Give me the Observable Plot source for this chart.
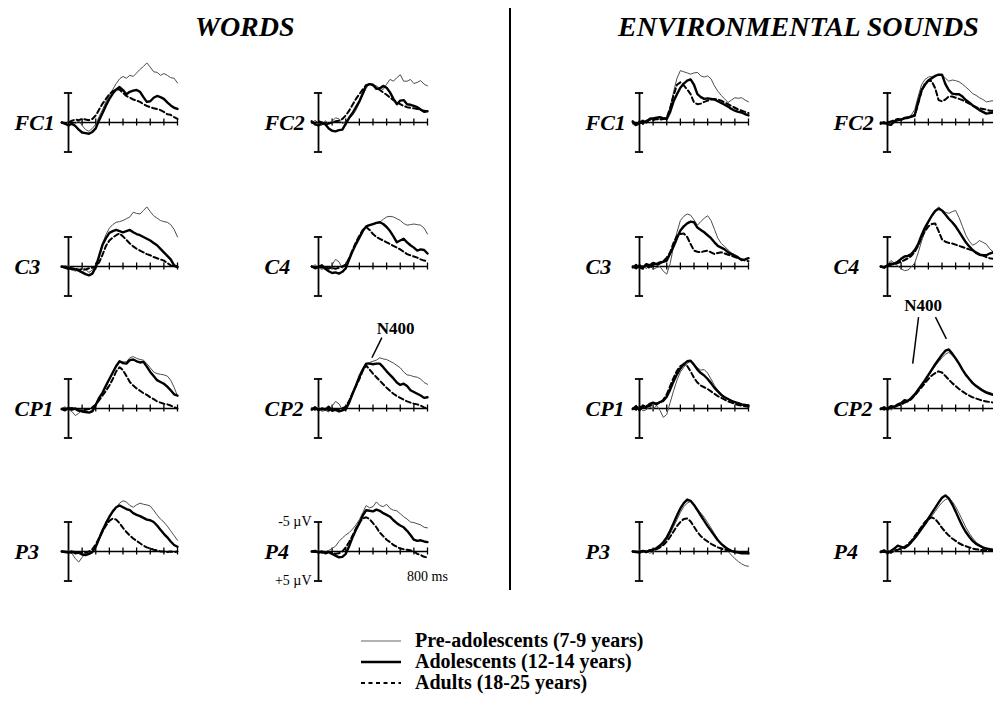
<!DOCTYPE html>
<html><head><meta charset="utf-8">
<script src="https://cdn.jsdelivr.net/npm/d3@7"></script>
<script src="https://cdn.jsdelivr.net/npm/@observablehq/plot@0.6"></script>
<style>
body{margin:0;background:#fff;overflow:hidden;}
#root{position:relative;width:993px;height:704px;overflow:hidden;font-family:"Liberation Serif","Times New Roman",serif;color:#000;}
.panel{position:absolute;width:230px;height:170px;}
.panel svg{max-width:none !important;}
.title{position:absolute;font-weight:bold;font-style:italic;font-size:28px;white-space:nowrap;line-height:1;}
.divider{position:absolute;left:509px;top:8px;width:2px;height:582px;background:#000;}
.legend{position:absolute;left:360px;top:630px;}
.legend div{display:flex;align-items:center;height:21px;font-weight:bold;font-size:20px;white-space:nowrap;}
.legend svg{margin-right:13px;}
</style></head><body><div id="root"></div>
<script>
// time axis (ms)
const times = [-50,-25,0,25,50,75,100,125,150,175,200,225,250,275,300,325,350,375,400,425,450,475,500,525,550,575,600,625,650,675,700,725,750,775,800];
const tickTimes = [100,200,300,400,500,600,700,800];
const groups = ["Pre-adolescents (7-9 years)", "Adolescents (12-14 years)", "Adults (18-25 years)"];
const conditions = ["WORDS", "ENVIRONMENTAL SOUNDS"];
const electrodeRows = [["FC1","FC2"],["C3","C4"],["CP1","CP2"],["P3","P4"]];

// ---- WORDS (µV, negative plotted up) ----
const wFC1pre  = [0,0.3,-0.2,0.4,0.2,-0.3,0.5,1.2,1.5,1.0,0.3,-1.0,-2.2,-3.5,-4.6,-5.6,-6.6,-7.4,-7.8,-7.5,-8.0,-7.8,-8.4,-9.0,-9.5,-10.1,-9.4,-8.6,-8.5,-8.0,-8.3,-8.0,-7.6,-7.5,-6.7];
const wFC1adol = [0,0.2,0.5,0.2,0.6,1.2,1.7,1.8,1.9,1.6,1.0,-0.4,-1.6,-2.9,-4.0,-4.9,-5.6,-6.0,-5.5,-4.8,-5.2,-5.4,-5.5,-5.2,-4.3,-3.5,-3.6,-4.2,-4.5,-4.3,-4.0,-3.4,-2.9,-2.5,-2.3];
const wFC1adul = [0,0.2,0,-0.3,-0.5,-0.4,-0.6,-0.5,-0.4,-0.6,-1.2,-2.2,-3.2,-4.0,-4.8,-5.3,-5.6,-5.6,-5.0,-4.5,-4.2,-3.9,-3.7,-3.5,-3.1,-2.8,-2.6,-2.4,-2.3,-2.1,-1.8,-1.4,-1.3,-0.9,-0.6];

const wFC2pre  = [0.2,-0.4,0.3,0.5,-0.3,0.2,-0.2,-0.8,-0.6,0.2,-0.2,-0.6,-1.2,-2.1,-3.3,-4.6,-5.8,-6.6,-6.4,-6.2,-5.8,-5.6,-6.5,-7.3,-7.0,-7.6,-8.1,-7.0,-7.0,-7.3,-6.6,-6.8,-7.1,-6.5,-6.2];
const wFC2adol = [-0.2,0.3,0.5,0.1,0.3,1.0,1.4,1.5,1.3,1.2,0.2,-0.8,-1.6,-2.6,-3.6,-4.9,-6.3,-6.5,-6.4,-5.7,-5.8,-6.2,-5.9,-5.1,-4.0,-3.1,-3.7,-3.8,-3.1,-3.0,-2.8,-2.6,-2.2,-1.8,-1.9];
const wFC2adul = [0,0.1,-0.2,0,0.3,0.2,0,-0.2,-0.3,-0.6,-1.2,-2.0,-3.0,-4.0,-4.8,-5.6,-6.3,-6.5,-6.3,-5.9,-5.5,-5.1,-4.7,-4.2,-3.8,-3.4,-3.1,-2.8,-2.6,-2.5,-2.4,-2.3,-2.1,-2.0,-1.9];

const wC3pre  = [0,0.3,-0.2,0.5,0.8,0.4,0.9,0.5,1.0,0.6,-0.3,-1.8,-3.9,-5.4,-6.5,-7.1,-7.5,-7.6,-7.8,-8.1,-8.4,-9.2,-9.0,-8.9,-9.5,-10.1,-9.3,-8.6,-8.2,-7.8,-7.6,-7.5,-7.1,-6.3,-5.0];
const wC3adol = [0,0.2,0.4,0.3,0.5,0.7,1.0,1.3,1.5,1.2,0.1,-1.8,-3.7,-4.8,-5.7,-6.0,-6.2,-6.0,-5.8,-6.0,-6.2,-5.8,-5.5,-5.3,-5.0,-4.7,-4.4,-4.0,-3.6,-3.0,-2.4,-1.8,-1.2,-0.2,0.1];
const wC3adul = [0.1,0,0.2,0.5,0.3,0.6,0.4,0.5,0.3,0.2,0,-0.7,-2.0,-3.5,-4.4,-4.9,-5.3,-5.6,-5.1,-4.5,-3.9,-3.4,-3.0,-2.7,-2.4,-2.1,-1.9,-1.6,-1.4,-1.2,-1.0,-0.6,-0.2,0,0];

const wC4pre  = [0.1,-0.3,0.2,0.5,0.2,0.6,-0.3,-1.2,-0.8,0.3,-0.5,-1.5,-2.7,-4.0,-5.1,-6.0,-6.9,-7.1,-7.2,-7.3,-7.5,-8.0,-8.4,-8.5,-8.4,-8.1,-7.8,-7.3,-7.0,-7.1,-7.2,-7.1,-7.0,-6.5,-5.5];
const wC4adol = [0,0.3,0.1,-0.2,0.4,0.8,1.1,1.0,1.2,0.9,0.3,-1.2,-2.6,-3.8,-4.9,-6.0,-6.8,-7.0,-7.2,-7.4,-7.5,-7.2,-6.7,-6.0,-5.1,-4.1,-4.4,-4.7,-4.1,-3.6,-3.2,-2.7,-2.9,-2.8,-2.2];
const wC4adul = [0,0.2,-0.1,0.2,0,0.3,0.2,0.4,0.2,0,-0.3,-1.4,-2.8,-4.1,-5.2,-6.2,-6.7,-6.2,-5.5,-5.0,-4.7,-4.4,-4.1,-3.8,-3.5,-3.2,-2.9,-2.5,-2.1,-1.9,-1.7,-1.5,-1.2,-1.0,-0.9];

const wCP1pre  = [0,-0.3,0.2,0.5,1.2,0.8,0.3,0.4,0.7,0.2,-0.8,-1.9,-2.7,-3.6,-5.0,-6.1,-7.2,-8.0,-7.9,-7.9,-8.6,-8.8,-8.5,-8.3,-8.2,-7.6,-6.9,-6.2,-5.9,-5.8,-5.7,-5.5,-4.8,-3.6,-2.1];
const wCP1adol = [0.1,0.3,-0.1,0.2,0,0.3,0.5,0.6,0.7,0.5,-0.6,-1.8,-2.7,-3.9,-5.0,-6.1,-7.2,-8.0,-7.7,-7.6,-8.2,-8.3,-8.0,-7.8,-7.9,-7.1,-6.2,-5.5,-4.8,-4.5,-4.2,-3.7,-3.1,-2.4,-2.2];
const wCP1adul = [0.1,0,0.2,-0.1,0.2,0.4,0.3,0.2,0.1,-0.2,-0.7,-1.4,-2.2,-3.0,-3.9,-5.0,-6.3,-7.0,-6.5,-5.5,-4.5,-3.9,-3.4,-3.0,-2.6,-2.3,-1.9,-1.6,-1.2,-1.0,-0.8,-0.7,-0.5,-0.2,0];

const wCP2pre  = [0,0.4,-0.2,0.5,0.3,0.6,-0.4,-1.2,-0.8,0.2,-0.2,-1.2,-2.5,-3.9,-5.4,-6.6,-7.6,-7.8,-8.0,-8.2,-8.6,-8.4,-8.3,-8.0,-7.7,-7.3,-6.9,-6.2,-5.7,-5.6,-5.4,-5.3,-5.0,-4.4,-4.1];
const wCP2adol = [0.2,-0.2,0.3,0,0.2,-0.3,0.4,0.2,0.5,0.3,0.1,-1.0,-2.5,-3.9,-5.4,-6.6,-7.6,-7.6,-7.5,-7.6,-7.6,-7.0,-6.3,-5.7,-5.1,-4.4,-4.0,-4.2,-3.8,-3.1,-2.8,-2.5,-2.2,-1.8,-1.9];
const wCP2adul = [0,0.1,0,0.2,0,0.3,0.1,0.3,0.1,0,-0.3,-1.3,-2.6,-3.8,-5.0,-6.4,-7.3,-6.6,-5.9,-5.3,-4.7,-4.1,-3.5,-3.0,-2.5,-2.1,-1.8,-1.5,-1.2,-1.0,-0.8,-0.7,-0.5,-0.2,0];

const wP3pre  = [0,0.2,-0.2,0.3,1.2,1.8,1.0,0.3,0.5,0,-0.8,-2.0,-3.3,-4.6,-5.7,-6.6,-7.5,-8.2,-8.6,-8.4,-7.8,-7.5,-7.9,-8.2,-8.0,-7.9,-7.7,-7.0,-6.2,-5.5,-5.0,-4.3,-3.5,-2.7,-1.9];
const wP3adol = [0,0.1,0.2,0,0.3,0.2,0.5,0.6,0.4,0.1,-0.8,-2.2,-3.6,-4.8,-5.9,-6.8,-7.5,-7.8,-7.5,-7.2,-7.0,-6.5,-6.2,-6.0,-5.7,-5.4,-5.3,-5.0,-4.4,-3.7,-3.0,-2.4,-1.7,-1.1,-0.8];
const wP3adul = [0,0,0.1,0.2,0,0.2,0.1,0.2,0,-0.4,-1.2,-2.3,-3.4,-4.4,-5.2,-5.6,-5.4,-4.8,-4.0,-3.3,-2.7,-2.2,-1.8,-1.4,-1.0,-0.7,-0.5,-0.3,-0.2,0,0,0.1,0,0.1,0];

const wP4pre  = [0,0.2,-0.1,0.3,0.1,-0.2,-0.5,-0.9,-1.7,-2.3,-2.8,-3.2,-3.8,-4.5,-5.4,-6.6,-7.8,-7.4,-7.6,-8.4,-7.8,-7.6,-8.0,-7.3,-7.0,-6.9,-6.4,-5.9,-5.5,-5.0,-4.9,-4.7,-4.5,-4.1,-4.0];
const wP4adol = [0,-0.1,0.2,0,0.3,0.1,0.4,0.7,1.0,0.9,0.4,-0.9,-2.4,-3.7,-4.8,-6.1,-7.0,-6.9,-6.8,-7.1,-6.9,-6.5,-6.2,-5.9,-5.3,-4.8,-4.4,-4.1,-3.5,-2.8,-2.0,-1.8,-1.9,-1.7,-1.6];
const wP4adul = [0,0.1,0,0.2,0,0.1,0.2,0.4,0.3,0,-0.7,-1.6,-2.7,-3.9,-4.9,-5.6,-5.8,-5.5,-4.8,-4.1,-3.2,-2.6,-2.0,-1.6,-1.1,-0.8,-0.5,-0.4,-0.3,-0.2,0,0.4,0.6,0.9,1.0];

// ---- ENVIRONMENTAL SOUNDS ----
const eFC1pre  = [0.3,0.6,-0.3,0.4,-0.2,-0.8,-0.7,-0.5,-0.6,-0.8,-0.8,-2.6,-5.2,-7.5,-8.8,-8.6,-8.4,-8.2,-8.4,-8.5,-7.9,-7.7,-7.9,-7.4,-6.2,-5.3,-4.6,-4.0,-3.4,-3.8,-4.2,-4.1,-4.2,-3.8,-3.5];
const eFC1adol = [-0.2,0.4,0.1,-0.3,0,-0.6,-0.7,-0.8,-0.9,-0.7,-0.6,-1.8,-3.6,-4.8,-5.9,-6.6,-7.1,-7.3,-6.4,-4.8,-4.3,-4.0,-4.1,-4.0,-3.9,-3.6,-3.3,-3.0,-2.7,-2.3,-2.0,-1.8,-1.7,-1.4,-1.2];
const eFC1adul = [0,0.3,-0.2,0.2,-0.3,-0.5,-0.4,-0.6,-0.5,-0.6,-0.8,-2.5,-4.6,-6.4,-6.8,-6.3,-5.6,-4.8,-3.4,-3.1,-3.2,-3.5,-3.7,-3.9,-4.0,-3.9,-3.7,-3.4,-3.1,-2.8,-2.5,-2.2,-2.0,-1.8,-1.6];

const eFC2pre  = [0.2,-0.2,0.4,0,-0.3,-0.6,-0.4,-0.7,-0.9,-1.3,-2.2,-4.4,-6.4,-7.3,-7.7,-7.8,-7.9,-8.0,-8.1,-7.5,-7.0,-7.2,-7.1,-6.9,-6.5,-6.0,-5.5,-4.9,-4.6,-4.2,-3.9,-3.5,-3.6,-3.7,-3.5];
const eFC2adol = [0.2,0,0.3,0.4,-0.2,-0.4,-0.5,-0.7,-0.8,-1.0,-1.3,-3.5,-5.5,-6.4,-7.1,-7.5,-7.9,-8.1,-8.1,-6.5,-5.5,-4.9,-4.8,-4.8,-4.4,-3.8,-3.4,-2.9,-2.5,-2.1,-1.8,-1.5,-1.6,-1.7,-1.6];
const eFC2adul = [0,0.2,0,-0.2,-0.4,-0.6,-0.5,-0.8,-0.9,-1.0,-1.1,-3.2,-5.3,-6.6,-7.1,-7.0,-5.8,-3.8,-3.6,-3.9,-4.4,-4.4,-4.2,-4.0,-3.8,-3.5,-3.2,-2.9,-2.6,-2.4,-2.3,-2.2,-2.0,-2.0,-1.9];

const eC3pre  = [0.2,-0.4,0.3,-0.2,0.4,-0.3,0.5,0.2,0,0.8,1.3,-0.5,-3.4,-5.8,-7.8,-8.5,-8.9,-8.7,-7.9,-7.0,-7.6,-8.2,-8.6,-7.8,-6.3,-4.8,-3.9,-3.4,-2.8,-2.3,-2.0,-1.7,-1.1,-1.2,-1.4];
const eC3adol = [0,0.3,-0.2,0.2,-0.4,-0.2,-0.6,-0.4,-0.7,-0.8,-1.0,-2.2,-3.4,-4.8,-6.1,-6.8,-7.3,-7.6,-7.5,-6.6,-6.2,-5.8,-5.3,-4.8,-4.1,-3.5,-3.2,-2.9,-2.4,-2.1,-1.8,-1.5,-1.1,-1.2,-1.4];
const eC3adul = [0.2,-0.3,0.2,0.4,-0.2,0.3,-0.4,-0.2,-0.5,-0.9,-1.5,-2.4,-4.0,-5.2,-5.5,-5.6,-5.0,-3.8,-2.7,-2.5,-2.4,-2.6,-2.7,-2.4,-2.1,-2.3,-2.4,-2.2,-2.0,-1.8,-1.6,-1.4,-1.2,-1.0,-0.9];

const eC4pre  = [0,0.2,-0.3,-1.0,-0.6,-0.1,0.4,0.7,0.6,0.1,-0.6,-2.3,-4.3,-6.0,-7.5,-8.6,-9.5,-10.1,-9.6,-9.2,-9.0,-9.3,-9.5,-8.3,-6.8,-5.3,-4.3,-3.6,-3.9,-4.4,-4.1,-3.8,-3.0,-2.5,-2.3];
const eC4adol = [0,0.2,-0.2,-0.3,-0.5,-0.8,-1.3,-1.7,-1.8,-2.1,-2.8,-3.8,-5.3,-6.6,-7.6,-8.6,-9.4,-9.8,-9.5,-8.8,-8.1,-7.5,-6.8,-5.9,-5.0,-4.1,-3.4,-2.8,-2.3,-2.0,-1.9,-1.9,-2.2,-2.4,-2.5];
const eC4adul = [0,0.1,-0.3,-0.5,-0.4,-0.6,-0.8,-1.1,-1.4,-1.8,-2.5,-3.5,-4.9,-6.0,-6.8,-7.2,-7.3,-6.0,-4.6,-4.2,-4.0,-3.9,-3.7,-3.5,-3.3,-3.1,-2.9,-2.7,-2.4,-2.1,-1.9,-1.6,-1.4,-1.3,-1.2];

const eCP1pre  = [0,0.3,-0.2,0.4,0.2,-0.3,0.1,-0.5,0.3,1.5,1.0,-1.0,-3.0,-4.8,-6.2,-7.0,-7.6,-8.1,-7.6,-6.9,-6.5,-6.6,-6.0,-5.0,-3.9,-3.1,-2.5,-2.0,-1.6,-1.3,-1.0,-0.8,-0.6,-0.5,-0.4];
const eCP1adol = [0.1,-0.4,0.3,-0.5,-0.2,-0.8,-1.0,-0.7,-1.1,-1.3,-2.0,-3.2,-4.6,-5.8,-6.8,-7.5,-8.0,-8.1,-7.4,-6.6,-6.0,-5.6,-5.0,-4.3,-3.5,-2.9,-2.3,-1.9,-1.6,-1.3,-1.1,-0.9,-0.7,-0.6,-0.5];
const eCP1adul = [0,0.2,-0.3,-0.2,-0.5,-0.4,-0.8,-0.9,-1.0,-1.5,-2.4,-3.8,-5.2,-6.4,-7.2,-7.5,-7.2,-6.3,-5.2,-4.4,-3.9,-3.6,-3.3,-2.9,-2.5,-2.1,-1.8,-1.5,-1.2,-1.0,-0.8,-0.6,-0.5,-0.4,-0.3];

const eCP2pre  = [0,0.2,-0.3,0.3,-0.2,-0.6,-0.5,-0.9,-1.2,-1.6,-2.2,-3.0,-3.8,-4.6,-5.5,-6.4,-7.2,-7.9,-8.6,-9.2,-9.5,-9.0,-8.3,-7.5,-6.6,-5.8,-5.1,-4.5,-4.0,-3.6,-3.2,-2.9,-2.7,-2.5,-2.4];
const eCP2adol = [0.1,-0.2,0.2,-0.4,-0.3,-0.7,-0.9,-1.4,-1.3,-1.8,-2.4,-3.2,-4.0,-4.8,-5.7,-6.6,-7.5,-8.3,-9.1,-9.8,-10.0,-9.3,-8.5,-7.6,-6.6,-5.7,-5.0,-4.3,-3.8,-3.4,-3.0,-2.7,-2.5,-2.3,-2.2];
const eCP2adul = [0,0.2,-0.1,-0.3,-0.2,-0.5,-0.7,-1.0,-1.2,-1.6,-2.2,-2.9,-3.6,-4.3,-5.0,-5.6,-6.0,-6.3,-6.1,-5.5,-4.9,-4.3,-3.8,-3.3,-2.9,-2.5,-2.2,-1.9,-1.7,-1.5,-1.3,-1.2,-1.1,-1.0,-0.9];

const eP3pre  = [0,0.2,-0.3,0.2,-0.2,0.3,0.1,-0.3,-0.6,-1.2,-2.0,-3.0,-4.2,-5.4,-6.6,-7.6,-8.2,-8.5,-8.0,-7.2,-6.5,-5.8,-4.9,-4.0,-3.0,-2.1,-1.3,-0.6,0,0.6,1.2,1.7,2.1,2.4,2.5];
const eP3adol = [0,0.1,0.2,-0.1,0.1,-0.2,-0.3,-0.6,-1.0,-1.6,-2.4,-3.5,-4.8,-6.1,-7.3,-8.2,-8.8,-8.6,-7.9,-7.0,-6.1,-5.2,-4.3,-3.5,-2.7,-1.9,-1.3,-0.8,-0.4,-0.1,0.1,0.2,0.3,0.3,0.3];
const eP3adul = [0,0,0.1,-0.1,0,-0.2,-0.3,-0.4,-0.7,-1.1,-1.7,-2.5,-3.4,-4.3,-5.0,-5.5,-5.6,-5.1,-4.2,-3.3,-2.6,-2.1,-1.7,-1.3,-1.0,-0.7,-0.5,-0.3,-0.2,-0.1,0,0.1,0.1,0.2,0.2];

const eP4pre  = [0,0.2,-0.2,0.3,0,-0.3,-0.5,-0.7,-1.1,-1.5,-2.1,-2.8,-3.6,-4.4,-5.2,-6.0,-6.8,-7.6,-8.3,-8.8,-9.0,-8.5,-7.6,-6.5,-5.3,-4.1,-3.1,-2.3,-1.6,-1.1,-0.7,-0.4,-0.3,-0.2,-0.2];
const eP4adol = [0.1,-0.2,0.3,-0.1,-0.5,-1.0,-0.8,-0.6,-1.0,-1.6,-2.3,-3.1,-3.9,-4.7,-5.6,-6.5,-7.4,-8.3,-9.1,-9.5,-9.0,-8.0,-6.8,-5.5,-4.3,-3.3,-2.5,-1.8,-1.3,-1.0,-0.7,-0.5,-0.4,-0.3,-0.3];
const eP4adul = [0,0.1,-0.1,0.2,-0.2,-0.3,-0.5,-0.8,-1.2,-1.8,-2.6,-3.4,-4.2,-5.0,-5.5,-5.8,-5.5,-4.8,-4.0,-3.3,-2.7,-2.2,-1.8,-1.4,-1.1,-0.9,-0.7,-0.5,-0.4,-0.3,-0.2,-0.2,-0.1,-0.1,0];

// N400 annotations (ms, µV)
const n400Words = {text: [566, -13.6], links: [[465, -12.0, 392, -8.6]]};
const n400Env = {text: [262, -17.4], links: [[228, -15.5, 185, -7.6], [352, -15.5, 432, -11.8]]};

// lookup built from the named arrays
const seriesTable = {
  WORDS: {FC1:[wFC1pre,wFC1adol,wFC1adul], FC2:[wFC2pre,wFC2adol,wFC2adul], C3:[wC3pre,wC3adol,wC3adul], C4:[wC4pre,wC4adol,wC4adul],
          CP1:[wCP1pre,wCP1adol,wCP1adul], CP2:[wCP2pre,wCP2adol,wCP2adul], P3:[wP3pre,wP3adol,wP3adul], P4:[wP4pre,wP4adol,wP4adul]},
  "ENVIRONMENTAL SOUNDS": {FC1:[eFC1pre,eFC1adol,eFC1adul], FC2:[eFC2pre,eFC2adol,eFC2adul], C3:[eC3pre,eC3adol,eC3adul], C4:[eC4pre,eC4adol,eC4adul],
          CP1:[eCP1pre,eCP1adol,eCP1adul], CP2:[eCP2pre,eCP2adol,eCP2adul], P3:[eP3pre,eP3adol,eP3adul], P4:[eP4pre,eP4adol,eP4adul]}
};

// styles / layout
const FONT = '"Liberation Serif","Times New Roman",serif';
const gStroke = ["#4d4d4d", "#000", "#000"];
const gWidth = [1, 2.4, 2];
const gDash = [null, null, "5,3"];
const colX = [68, 318, 639, 887];
const rowY = [122, 266, 408, 551];
const SVG_W = 230, SVG_H = 170, AX = 70, BASE = 110, PX_800 = 109, PX_5UV = 29.5;

const root = document.getElementById("root");

function makePanel(cond, label, col, row) {
  const series = seriesTable[cond][label];
  const rows = [];
  series.forEach((vals, g) => vals.forEach((v, i) => rows.push({t: times[i], v, g})));
  const marks = [
    Plot.ruleY([0], {x1: -50, x2: 800, stroke: "#000", strokeWidth: 1.5}),
    Plot.ruleX(tickTimes, {x: d => d, y1: -0.6, y2: 0.6, stroke: "#000", strokeWidth: 1.3}),
    Plot.ruleX([0], {y1: -5, y2: 5, stroke: "#000", strokeWidth: 1.8}),
    Plot.ruleY([-5, 5], {y: d => d, x1: -30, x2: 30, stroke: "#000", strokeWidth: 1.8}),
    ...[0, 1, 2].map(g => Plot.line(rows.filter(d => d.g === g), {
      x: "t", y: "v", stroke: gStroke[g], strokeWidth: gWidth[g],
      strokeDasharray: gDash[g] || undefined, strokeLinejoin: "round"
    })),
    Plot.text([label], {text: d => d, x: 0, y: 0, dx: -54, textAnchor: "start", fontSize: 22,
      fontWeight: "bold", fontStyle: "italic", fontFamily: FONT, fill: "#000"})
  ];
  if (cond === "WORDS" && label === "P4") {
    marks.push(Plot.text(["-5 µV"], {text: d => d, x: 0, y: -5, dx: -7, textAnchor: "end", fontSize: 14, fontFamily: FONT, fill: "#000"}));
    marks.push(Plot.text(["+5 µV"], {text: d => d, x: 0, y: 5, dx: -7, textAnchor: "end", fontSize: 14, fontFamily: FONT, fill: "#000"}));
    marks.push(Plot.text(["800 ms"], {text: d => d, x: 800, y: 4.2, textAnchor: "middle", fontSize: 14, fontFamily: FONT, fill: "#000"}));
  }
  const ann = cond === "WORDS" && label === "CP2" ? n400Words : (cond !== "WORDS" && label === "CP2" ? n400Env : null);
  if (ann) {
    marks.push(Plot.text(["N400"], {text: d => d, x: ann.text[0], y: ann.text[1], fontSize: 17, fontWeight: "bold", fontFamily: FONT, fill: "#000"}));
    marks.push(Plot.link(ann.links, {x1: d => d[0], y1: d => d[1], x2: d => d[2], y2: d => d[3], stroke: "#000", strokeWidth: 1.5}));
  }
  const svg = Plot.plot({
    width: SVG_W, height: SVG_H, margin: 0,
    style: {background: "transparent", overflow: "visible", maxWidth: "none"},
    x: {domain: [0, 800], range: [AX, AX + PX_800], axis: null},
    y: {domain: [-5, 5], range: [BASE - PX_5UV, BASE + PX_5UV], axis: null},
    marks
  });
  svg.style.maxWidth = "none";
  svg.style.width = SVG_W + "px";
  svg.style.height = SVG_H + "px";
  const wrap = document.createElement("div");
  wrap.className = "panel";
  wrap.style.left = (colX[col] - AX) + "px";
  wrap.style.top = (rowY[row] - BASE) + "px";
  wrap.appendChild(svg);
  root.appendChild(wrap);
}

conditions.forEach((cond, ci) => {
  electrodeRows.forEach((pair, r) => {
    pair.forEach((label, k) => makePanel(cond, label, ci * 2 + k, r));
  });
});

// titles
const titlePos = [[195, 13], [618, 13]];
conditions.forEach((c, i) => {
  const d = document.createElement("div");
  d.className = "title";
  d.textContent = c;
  d.style.left = titlePos[i][0] + "px";
  d.style.top = titlePos[i][1] + "px";
  root.appendChild(d);
});
const div = document.createElement("div");
div.className = "divider";
root.appendChild(div);

// legend
const leg = document.createElement("div");
leg.className = "legend";
groups.forEach((g, i) => {
  const row = document.createElement("div");
  const s = d3.create("svg").attr("width", 42).attr("height", 10);
  s.append("line").attr("x1", 1).attr("x2", 41).attr("y1", 5).attr("y2", 5)
    .attr("stroke", i === 0 ? "#666" : "#000").attr("stroke-width", gWidth[i])
    .attr("stroke-dasharray", i === 2 ? "4,3.5" : null);
  row.appendChild(s.node());
  const t = document.createElement("span");
  t.textContent = g;
  row.appendChild(t);
  leg.appendChild(row);
});
root.appendChild(leg);
</script></body></html>
